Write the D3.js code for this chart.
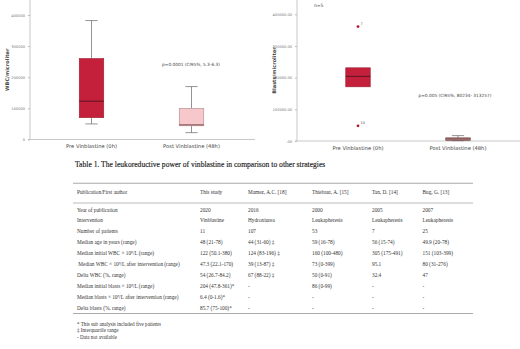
<!DOCTYPE html>
<html>
<head>
<meta charset="utf-8">
<script src="https://cdn.jsdelivr.net/npm/d3@7"></script>
<style>
  body { margin: 0; background: #fff; }
  svg { display: block; }
</style>
</head>
<body>
<svg id="chart" width="520" height="349"></svg>
<script>
// données
const categories = ["Pre Vinblastine (0h)", "Post Vinblastine (48h)"]

const wbc_stats = [
  {min: 50000, q1: 70000, median: 123000, q3: 260000, max: 382000},
  {min: 22000, q1: 44000, median: 47000, q3: 100000, max: 170000}
]
const wbc_ticks = [0, 100000, 200000, 300000, 400000]

const blasts_stats = [
  {min: 171000, q1: 171000, median: 204000, q3: 231000, max: 231000},
  {min: 1000, q1: 1500, median: 6400, q3: 10000, max: 17000}
]
const blasts_outliers = [
  {cat: "Pre Vinblastine (0h)", value: 361000, label: "7"},
  {cat: "Pre Vinblastine (0h)", value: 47800, label: "10"}
]
const blasts_ticks = [0, 100000, 200000, 300000, 400000]

const table_title = "Table 1. The leukoreductive power of vinblastine in comparison to other strategies"
const table_header = ["Publication/First author", "This study", "Mamez, A.C. [18]", "Thiebaut, A. [15]", "Tan, D. [14]", "Bug, G. [13]"]
const table_rows = [
  ["Year of publication", "2020", "2016", "2000", "2005", "2007"],
  ["Intervention", "Vinblastine", "Hydroxiurea", "Leukapheresis", "Leukapheresis", "Leukapheresis"],
  ["Number of patients", "11", "107", "53", "7", "25"],
  ["Median age in years (range)", "48 (21-78)", "44 (31-60) \u2021", "59 (16-78)", "56 (15-74)", "49.9 (20-78)"],
  ["Median initial WBC \u00d7 10\u2079/L (range)", "122 (50.1-380)", "124 (83-196) \u2021", "160 (100-480)", "305 (175-491)", "151 (103-399)"],
  [" Median WBC \u00d7 10\u2079/L after intervention (range)", "47.3 (22.1-170)", "39 (13-87) \u2021", "73 (0-399)", "95.1", "80 (31-276)"],
  ["Delta WBC (%, range)", "54 (26.7-84.2)", "67 (88-22) \u2021", "50 (0-91)", "32.4", "47"],
  ["Median initial blasts \u00d7 10\u2079/L (range)", "204 (47.8-361)*", "-", "86 (0-99)", "-", "-"],
  ["Median blasts \u00d7 10\u2079/L after intervention (range)", "6.4 (0-1.6)*", "-", "-", "-", "-"],
  ["Delta blasts (%, range)", "85.7 (75-100)*", "-", "-", "-", "-"]
]
const footnotes = ["* This sub analysis included five patients", "\u2021 Interquartile range", "- Data not available"]

const svg = d3.select("#chart")

// boxplot générique
const boxplot = (cfg) => {
  const g = svg.append("g")

  const y = d3.scaleLinear().domain(cfg.domain).range([cfg.bottom, 0])
  const x = d3.scaleBand().domain(categories).range(cfg.xrange)
  const bw = x.bandwidth() * 0.245

  // axe y
  const yAxis = g.append("g")
    .attr("transform", `translate(${cfg.left},0)`)
    .call(d3.axisLeft(y).tickValues(cfg.ticks).tickSize(2).tickFormat(cfg.fmt))
  yAxis.select(".domain").attr("stroke", "#c8c8c8").attr("d", `M-2,${cfg.bottom}H0V0`)
  yAxis.selectAll(".tick line").attr("stroke", "#bbb")
  yAxis.selectAll("text").attr("fill", "#777").style("font", "3.6px 'DejaVu Sans'")

  // axe x
  const xAxis = g.append("g")
    .attr("transform", `translate(0,${cfg.bottom})`)
    .call(d3.axisBottom(x).tickSize(0).tickPadding(5))
  xAxis.select(".domain").attr("stroke", "#c8c8c8").attr("d", `M${cfg.left},0H${cfg.right}`)
  xAxis.selectAll("text").attr("fill", "#444").style("font", "5.2px 'DejaVu Sans'")

  // titre axe y
  g.append("text")
    .attr("transform", `translate(${cfg.left - 21},${cfg.bottom / 2}) rotate(-90)`)
    .attr("text-anchor", "middle")
    .attr("fill", "#444")
    .style("font", "bold 5px 'DejaVu Sans'")
    .text(cfg.ylabel)

  const boxes = g.selectAll(".box")
    .data(cfg.stats)
    .join("g")
    .attr("class", "box")
    .attr("transform", (d, i) => `translate(${x(categories[i]) + x.bandwidth() / 2},0)`)

  // moustaches
  boxes.append("line")
    .attr("y1", d => y(d.max)).attr("y2", d => y(d.q3))
    .attr("stroke", "#666").attr("stroke-width", 0.7)
  boxes.append("line")
    .attr("y1", d => y(d.q1)).attr("y2", d => y(d.min))
    .attr("stroke", "#666").attr("stroke-width", 0.7)
  boxes.filter(d => d.max > d.q3).append("line")
    .attr("x1", -bw / 4).attr("x2", bw / 4)
    .attr("y1", d => y(d.max)).attr("y2", d => y(d.max))
    .attr("stroke", "#666").attr("stroke-width", 0.7)
  boxes.filter(d => d.min < d.q1).append("line")
    .attr("x1", -bw / 4).attr("x2", bw / 4)
    .attr("y1", d => y(d.min)).attr("y2", d => y(d.min))
    .attr("stroke", "#666").attr("stroke-width", 0.7)

  boxes.append("rect")
    .attr("x", -bw / 2)
    .attr("width", bw)
    .attr("y", d => y(d.q3))
    .attr("height", d => y(d.q1) - y(d.q3))
    .attr("fill", (d, i) => cfg.fills[i])
    .attr("stroke", (d, i) => cfg.strokes[i])
    .attr("stroke-width", 0.6)

  boxes.append("line")
    .attr("x1", -bw / 2).attr("x2", bw / 2)
    .attr("y1", d => y(d.median)).attr("y2", d => y(d.median))
    .attr("stroke", (d, i) => cfg.medians[i]).attr("stroke-width", 1)

  if (cfg.outliers) {
    g.selectAll(".outlier")
      .data(cfg.outliers)
      .join("circle")
      .attr("cx", d => x(d.cat) + x.bandwidth() / 2)
      .attr("cy", d => y(d.value))
      .attr("r", 1.4)
      .attr("fill", "#b0182f")
    g.selectAll(".outlier-label")
      .data(cfg.outliers)
      .join("text")
      .attr("x", d => x(d.cat) + x.bandwidth() / 2 + 2.5)
      .attr("y", d => y(d.value) - 1.5)
      .attr("fill", "#555")
      .style("font", "3.5px 'DejaVu Sans'")
      .text(d => d.label)
  }

  g.append("text")
    .attr("x", cfg.ptext[0]).attr("y", cfg.ptext[1])
    .attr("text-anchor", "middle")
    .attr("fill", "#444")
    .style("font", "4.3px 'DejaVu Sans'")
    .text(cfg.pvalue)

  return g
}

boxplot({
  left: 30, right: 255, bottom: 139.5, xrange: [41.5, 241.5],
  domain: [0, 448000], ticks: wbc_ticks, fmt: d3.format("d"),
  stats: wbc_stats, ylabel: "WBC/microliter",
  fills: ["#c41f3b", "#f6c8cb"], strokes: ["#9a2030", "#b08888"], medians: ["#5a1620", "#7a4848"],
  pvalue: "p=0.0001 (CI95%, 5.3-6.3)", ptext: [191, 65.5]
})

const right = boxplot({
  left: 297, right: 520, bottom: 141, xrange: [308, 508],
  domain: [0, 445000], ticks: blasts_ticks, fmt: d => d === 0 ? ".00" : d3.format(".2f")(d),
  stats: blasts_stats, outliers: blasts_outliers, ylabel: "Blasts/microliter",
  fills: ["#c41f3b", "#d4abab"], strokes: ["#9a2030", "#6a3a3a"], medians: ["#5a1620", "#5a2a2a"],
  pvalue: "p=0.005 (CI95%, 80234- 313257)", ptext: [455, 96.5]
})
right.append("text").attr("x", 314).attr("y", 6.5)
  .attr("fill", "#444").style("font", "4.5px 'DejaVu Sans'").text("n=5")

// tableau
const colX = [77, 200, 248, 312, 372, 422.5]
const tableFont = "5.3px 'Liberation Serif'"
const tg = svg.append("g")

tg.append("text").attr("x", 75).attr("y", 167)
  .attr("fill", "#222").style("font", "7.6px 'Liberation Serif'")
  .style("stroke", "#222").style("stroke-width", 0.15)
  .text(table_title)

const rule = (yy, w) => tg.append("line").attr("x1", 73).attr("x2", 473)
  .attr("y1", yy).attr("y2", yy).attr("stroke", "#aaa").attr("stroke-width", w)
rule(183.3, 1.1)
rule(203, 0.8)
rule(313.5, 1.1)

tg.selectAll(".head").data(table_header).join("text")
  .attr("x", (d, i) => colX[i]).attr("y", 194)
  .attr("fill", "#333").style("font", tableFont).text(d => d)

const rowY = d3.scaleLinear().domain([0, table_rows.length - 1]).range([211.5, 310])
table_rows.forEach((row, r) => {
  tg.selectAll(".row" + r).data(row).join("text")
    .attr("x", (d, i) => colX[i]).attr("y", rowY(r))
    .attr("fill", "#333").style("font", tableFont).style("white-space", "pre")
    .text(d => d)
})

tg.selectAll(".foot").data(footnotes).join("text")
  .attr("x", 77).attr("y", (d, i) => 325.5 + i * 6.8)
  .attr("fill", "#333").style("font", "5.1px 'Liberation Serif'")
  .text(d => d)
</script>
</body>
</html>
